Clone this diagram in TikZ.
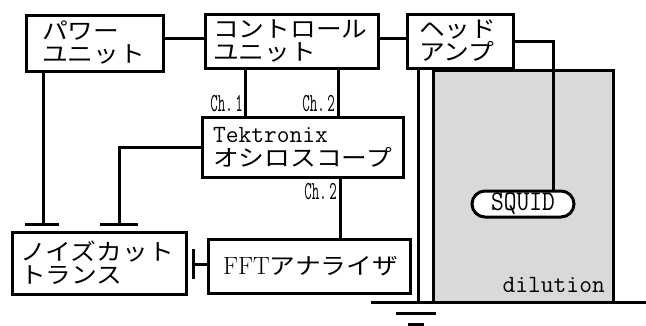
\documentclass[tikz,border=0pt]{standalone}
\usepackage{fontspec}
\usepackage{graphicx}
\newfontfamily\jp[FakeStretch=1.12]{Noto Sans CJK JP}
\usetikzlibrary{shapes.misc,calc}
\tikzset{
  box/.style={draw, line width=3pt, fill=white, align=left, inner ysep=0pt,
    font={\jp\fontsize{23pt}{23pt}\selectfont}},
  wire/.style={line width=3pt},
  chlabel/.style={inner sep=0pt, font={\ttfamily\fontsize{26pt}{26pt}\selectfont}},
}
\newcommand{\chtxt}[1]{\scalebox{0.56}[1]{#1}}
\begin{document}
\begin{tikzpicture}[x=1pt,y=-1pt]
\useasboundingbox (0,0) rectangle (646,325);
% cryostat
\fill[black!15] (433,70) rectangle (613,302);
\draw[wire] (433,302) -- (433,70) -- (613,70) -- (613,302);
% boxes
\node[box, inner xsep=16pt, text width=105pt, minimum height=56pt] (pw) at (94.5,43) {パワー\\ユニット};
\node[box, inner xsep=8pt, text width=157pt, minimum height=54pt] (ctl) at (291.5,41) {コントロール\\ユニット};
\node[box, inner xsep=12pt, text width=82pt, minimum height=54pt] (amp) at (460,41) {ヘッド\\アンプ};
\node[box, inner xsep=11pt, text width=179pt, minimum height=60pt] (tek) at (302.5,147) {{\ttfamily\fontsize{24.8pt}{24.8pt}\selectfont Tektronix}\\[1pt]オシロスコープ};
\node[box, inner xsep=8pt, text width=158pt, minimum height=62pt] (nct) at (99,263) {ノイズカット\\トランス};
\node[box, inner xsep=15pt, text width=172pt, minimum height=54pt] (fft) at (309,266) {{\rmfamily\fontsize{25pt}{25pt}\selectfont FFT}アナライザ};
\node[draw, rounded rectangle, line width=3pt, fill=white, minimum width=102pt, minimum height=26pt, inner sep=0pt,
  font={\ttfamily\fontsize{24.8pt}{24.8pt}\selectfont}] (sq) at (523,204) {\scalebox{1}[1.15]{SQUID}};
\node[anchor=base east, inner sep=0pt, font={\ttfamily\fontsize{24.8pt}{24.8pt}\selectfont}] (dil) at (605,292) {dilution};
% helper coordinates
\coordinate (xa) at (245,0);
\coordinate (xb) at (338,0);
\coordinate (xc) at (340,0);
\coordinate (xs) at (553,0);
\coordinate (xg) at (418,0);
\coordinate (tp) at (43,224);
\coordinate (tt) at (119,224);
\coordinate (tf) at (193,264);
\coordinate (bl) at (371,302);
\coordinate (br) at (646,302);
\coordinate (g1) at (416,313);
\coordinate (g2) at (416,324);
% connectors
\draw[wire] (pw.east |- 0,38) -- (ctl.west |- 0,38);
\draw[wire] (ctl.east |- 0,38) -- (amp.west |- 0,38);
\draw[wire] (amp.east |- 0,41) -| (sq.north -| xs);
\draw[wire] (ctl.south -| xa) -- (tek.north -| xa);
\draw[wire] (ctl.south -| xb) -- (tek.north -| xb);
\draw[wire] (tek.south -| xc) -- (fft.north -| xc);
\draw[wire] (tek.west |- 0,147) -| (tt);
\draw[wire] ([xshift=-19pt]tt) -- ([xshift=19pt]tt);
\draw[wire] (pw.south -| tp) -- (tp);
\draw[wire] ([xshift=-18pt]tp) -- ([xshift=16pt]tp);
\draw[wire] (fft.west |- tf) -- (tf);
\draw[wire] ([yshift=-15pt]tf) -- ([yshift=15pt]tf);
\draw[wire] (amp.south -| xg) -- (bl -| xg);
\draw[wire] (bl) -- (br);
\draw[wire] ([xshift=-20pt]g1) -- ([xshift=20pt]g1);
\draw[wire] ([xshift=-8pt]g2) -- ([xshift=8pt]g2);
% channel labels
\node[chlabel, anchor=base east] (c1) at (243,111) {\chtxt{Ch.\,1}};
\node[chlabel, anchor=base east] (c2) at (335,111) {\chtxt{Ch.\,2}};
\node[chlabel, anchor=base east] (c3) at (337,199) {\chtxt{Ch.\,2}};
\end{tikzpicture}
\end{document}
